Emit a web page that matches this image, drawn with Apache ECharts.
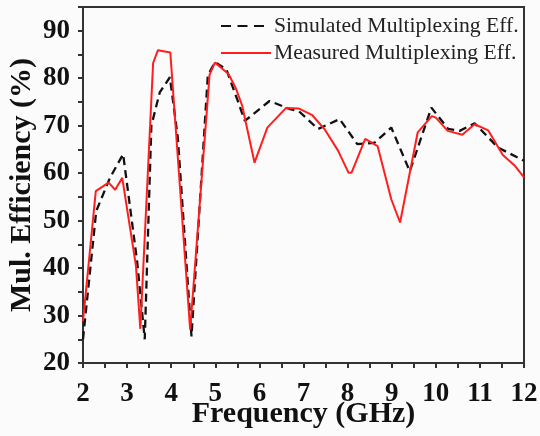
<!DOCTYPE html>
<html>
<head>
<meta charset="utf-8">
<script src="https://cdn.jsdelivr.net/npm/echarts@6/dist/echarts.min.js"></script>
<style>html,body{margin:0;padding:0;background:#fbfbfb;}#c{width:540px;height:436px;}</style>
</head>
<body>
<div id="c"></div>
<script>
const seriesNames = ['Simulated Multiplexing Eff.', 'Measured Multiplexing Eff.'];
const simulated = [
  [2.0, 25.0], [2.30, 52.0], [2.61, 59.0], [2.91, 64.0], [3.23, 41.2], [3.40, 25.0],
  [3.55, 70.0], [3.74, 77.0], [3.97, 80.2], [4.15, 67.5], [4.46, 25.6], [4.83, 80.5],
  [4.99, 83.4], [5.25, 81.9], [5.51, 75.2], [5.67, 71.0], [6.23, 75.2], [6.69, 73.5],
  [6.90, 73.0], [7.33, 69.3], [7.82, 71.4], [8.22, 66.1], [8.61, 66.4], [8.99, 69.6],
  [9.41, 60.4], [9.63, 66.4], [9.90, 73.8], [10.28, 69.3], [10.54, 68.9], [10.88, 70.5],
  [11.41, 65.4], [12.0, 62.6]
];
const measured = [
  [2.0, 28.8], [2.29, 56.2], [2.58, 58.0], [2.73, 56.5], [2.89, 59.0], [3.20, 40.5],
  [3.30, 27.2], [3.59, 83.2], [3.70, 85.9], [3.98, 85.4], [4.43, 27.0], [4.87, 80.7],
  [4.99, 83.3], [5.30, 80.9], [5.46, 78.0], [5.61, 74.2], [5.89, 62.2], [6.18, 69.6],
  [6.60, 73.7], [6.90, 73.6], [7.20, 72.2], [7.49, 69.1], [7.78, 64.8], [8.02, 60.1],
  [8.09, 60.1], [8.40, 67.2], [8.68, 65.7], [8.99, 54.5], [9.19, 49.6], [9.59, 68.6],
  [9.91, 72.0], [10.0, 71.7], [10.27, 68.9], [10.60, 68.1], [10.88, 70.3], [11.19, 69.0],
  [11.52, 63.8], [11.80, 61.5], [12.0, 59.1]
];
const xTitle = 'Frequency (GHz)';
const yTitle = 'Mul. Efficiency (%)';

const chart = echarts.init(document.getElementById('c'), null, {renderer: 'canvas'});
const axisColor = '#333';
const font = 'Liberation Serif';
const dashIcon = 'path://M0,0h10v2h-10z M16.5,0h10v2h-10z M33,0h10v2h-10z M50,0h0.01v2h-0.01z';
const solidIcon = 'path://M0,0h50v2h-50z';
chart.setOption({
  backgroundColor: '#fbfbfb',
  animation: false,
  grid: {left: 83, right: 16, top: 7, bottom: 73, show: true, borderColor: axisColor, borderWidth: 2,
         backgroundColor: 'transparent', containLabel: false, outerBoundsMode: 'none'},
  legend: {
    orient: 'vertical', left: 216, top: 10, itemWidth: 50, itemHeight: 2.5, itemGap: 5,
    textStyle: {fontFamily: font, fontSize: 21.7, color: '#222', lineHeight: 22, padding: [0, 0, 0, -2]},
    data: [
      {name: seriesNames[0], icon: dashIcon, itemStyle: {color: '#111'}},
      {name: seriesNames[1], icon: solidIcon, itemStyle: {color: '#ff1e1e'}}
    ]
  },
  xAxis: {
    type: 'value', min: 2, max: 12, interval: 0.5,
    axisLine: {show: true, lineStyle: {color: axisColor, width: 2}},
    axisTick: {show: true, inside: false, length: 5, lineStyle: {color: axisColor, width: 2}},
    splitLine: {show: false},
    axisLabel: {
      margin: 18, fontFamily: font, fontWeight: 'bold', fontSize: 27, color: '#111',
      formatter: v => (Math.abs(v - Math.round(v)) < 1e-6 ? String(Math.round(v)) : '')
    },
    name: xTitle, nameLocation: 'middle', nameGap: 36, nameMoveOverlap: false,
    nameTextStyle: {fontFamily: font, fontWeight: 'bold', fontSize: 30, color: '#111'}
  },
  yAxis: {
    type: 'value', min: 20, max: 95, interval: 5,
    axisLine: {show: true, lineStyle: {color: axisColor, width: 2}},
    axisTick: {show: true, inside: false, length: 5, lineStyle: {color: axisColor, width: 2}},
    splitLine: {show: false},
    axisLabel: {
      margin: 13, fontFamily: font, fontWeight: 'bold', fontSize: 27, color: '#111',
      formatter: v => (v % 10 === 0 ? String(v) : '')
    },
    name: yTitle, nameLocation: 'middle', nameGap: 46, nameMoveOverlap: false,
    nameTextStyle: {fontFamily: font, fontWeight: 'bold', fontSize: 30, color: '#111'}
  },
  series: [
    {
      name: seriesNames[0], type: 'line', data: simulated, symbol: 'none',
      lineStyle: {color: '#111', width: 2.3, type: [8, 5]}, itemStyle: {color: '#111'}
    },
    {
      name: seriesNames[1], type: 'line', data: measured, symbol: 'none',
      lineStyle: {color: '#ff1e1e', width: 2}, itemStyle: {color: '#ff1e1e'}
    }
  ]
});
</script>
</body>
</html>
